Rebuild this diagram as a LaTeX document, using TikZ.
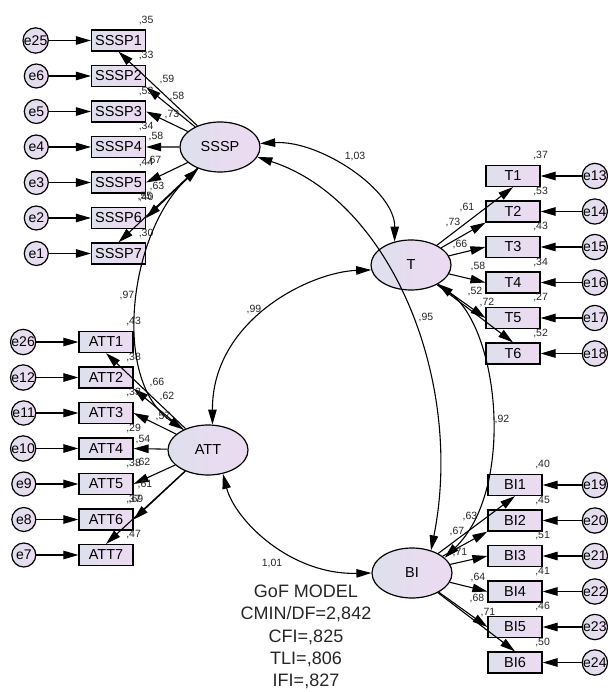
\documentclass[tikz,border=0pt]{standalone}
\usepackage{fontspec}
\setmainfont{Liberation Sans}
\usetikzlibrary{arrows.meta, positioning, shapes.geometric}

\definecolor{fillL}{RGB}{222,224,237}
\definecolor{fillR}{RGB}{237,218,242}

\begin{document}
\begin{tikzpicture}[
        x=1pt, y=-1pt,
        latent/.style={ellipse, draw, line width=1.2pt, minimum width=80pt, minimum height=50pt, inner sep=0pt, left color=fillL, right color=fillR, font=\fontsize{14.5}{16}\selectfont},
        indic/.style={rectangle, draw, line width=1.2pt, minimum width=54pt, minimum height=21pt, inner sep=0pt, left color=fillL, right color=fillR, font=\fontsize{14.5}{16}\selectfont},
        err/.style={circle, draw, line width=1.2pt, minimum size=24pt, inner sep=0pt, left color=fillL, right color=fillR, font=\fontsize{14}{16}\selectfont},
        val/.style={font=\fontsize{10.5}{12}\selectfont, inner sep=0.5pt, text=black!85},
        gof/.style={font=\fontsize{18}{22.2}\selectfont, align=center, text=black!85},
        arr/.style={-{Triangle[length=15pt, width=8.5pt]}, line width=1.1pt},
        cov/.style={{Triangle[length=15pt, width=8.5pt]}-{Triangle[length=15pt, width=8.5pt]}, line width=1.1pt},
        node distance=13.3pt
    ]
        \useasboundingbox (0,0) rectangle (607,692);

        \node[latent] (SSSP) at (220,147) {SSSP};
        \node[latent] (T) at (411,265) {T};
        \node[latent] (ATT) at (208,450) {ATT};
        \node[latent] (BI) at (412,573) {BI};

        % indicators
        \node[indic] (SSSP1) at (118.5,40.5) {SSSP1};
        \foreach \i [count=\j from 1] in {2,...,7}
            \node[indic, below=of SSSP\j] (SSSP\i) {SSSP\i};
        \node[indic] (ATT1) at (106,342) {ATT1};
        \foreach \i [count=\j from 1] in {2,...,7}
            \node[indic, below=of ATT\j] (ATT\i) {ATT\i};
        \node[indic] (T1) at (513,176) {T1};
        \foreach \i [count=\j from 1] in {2,...,6}
            \node[indic, below=of T\j] (T\i) {T\i};
        \node[indic] (BI1) at (515,485) {BI1};
        \foreach \i [count=\j from 1] in {2,...,6}
            \node[indic, below=of BI\j] (BI\i) {BI\i};

        % errors
        \foreach \i/\e in {1/25,2/6,3/5,4/4,5/3,6/2,7/1} {
            \node[err, left=42pt of SSSP\i] (e\e) {e\e};
            \draw[arr] (e\e) -- (SSSP\i);
        }
        \foreach \i/\e in {1/26,2/12,3/11,4/10,5/9,6/8,7/7} {
            \node[err, left=42pt of ATT\i] (e\e) {e\e};
            \draw[arr] (e\e) -- (ATT\i);
        }
        \foreach \i/\e in {1/13,2/14,3/15,4/16,5/17,6/18} {
            \node[err, right=41pt of T\i] (e\e) {e\e};
            \draw[arr] (e\e) -- (T\i);
        }
        \foreach \i/\e in {1/19,2/20,3/21,4/22,5/23,6/24} {
            \node[err, right=39pt of BI\i] (e\e) {e\e};
            \draw[arr] (e\e) -- (BI\i);
        }

        % loadings
        \foreach \i/\a in {1/south,2/south east,3/east,4/east,5/east,6/east,7/north}
            \draw[arr] (SSSP) -- (SSSP\i.\a);
        \foreach \i/\a in {1/south,2/south east,3/east,4/east,5/east,6/east,7/north}
            \draw[arr] (ATT) -- (ATT\i.\a);
        \foreach \i/\a in {1/south,2/south west,3/west,4/west,5/west,6/north}
            \draw[arr] (T) -- (T\i.\a);
        \foreach \i/\a in {1/south,2/south west,3/west,4/west,5/west,6/north}
            \draw[arr] (BI) -- (BI\i.\a);

        % squared multiple correlations
        \foreach \i/\v in {1/35,2/33,3/53,4/34,5/44,6/40,7/30}
            \node[val, above=4pt of SSSP\i.north east] (rSSSP\i) {,\v};
        \foreach \i/\v in {1/43,2/38,3/33,4/29,5/38,6/37,7/47}
            \node[val, above=4pt of ATT\i.north east] (rATT\i) {,\v};
        \foreach \i/\v in {1/37,2/53,3/43,4/34,5/27,6/52}
            \node[val, above=4pt of T\i.north east] (rT\i) {,\v};
        \foreach \i/\v in {1/40,2/45,3/51,4/41,5/46,6/50}
            \node[val, above=4pt of BI\i.north east] (rBI\i) {,\v};

        \foreach \n/\p/\v in {1/{167,80}/59, 2/{177,97}/58, 3/{172,115}/73, 4/{156,137}/58, 5/{154,161}/67, 6/{157,187}/63, 7/{145,197}/55}
            \node[val] (lSSSP\n) at (\p) {,\v};
        \foreach \n/\p/\v in {1/{157,383}/66, 2/{167,397}/62, 3/{163,417}/57, 4/{143,440}/54, 5/{143,463}/62, 6/{145,485}/61, 7/{136,500}/69}
            \node[val] (lATT\n) at (\p) {,\v};
        \foreach \n/\p/\v in {1/{467,208}/61, 2/{453,223}/73, 3/{460,245}/66, 4/{478,267}/58, 5/{475,292}/52, 6/{487,303}/72}
            \node[val] (lT\n) at (\p) {,\v};
        \foreach \n/\p/\v in {1/{470,517}/63, 2/{457,532}/67, 3/{460,553}/71, 4/{478,577}/64, 5/{477,598}/68, 6/{488,613}/71}
            \node[val] (lBI\n) at (\p) {,\v};

        % covariances
        \draw[cov] (SSSP.5) .. controls (320,140) and (395,190) .. (T.125);
        \draw[cov] (SSSP.-15) .. controls (390,200) and (465,380) .. (BI.50);
        \draw[cov] (SSSP.225) .. controls (130,230) and (110,380) .. (ATT.140);
        \draw[cov] (T.187) .. controls (310,272) and (212,320) .. (ATT.80);
        \draw[cov] (ATT.-58) .. controls (235,520) and (290,575) .. (BI.west);
        \draw[cov] (T.-35) .. controls (500,330) and (515,490) .. (BI.25);

        \node[val] (cSSSPT) at (355,157) {1,03};
        \node[val] (cSSSPBI) at (426,318) {,95};
        \node[val] (cSSSPATT) at (127,296) {,97};
        \node[val] (cTATT) at (254,310) {,99};
        \node[val] (cTBI) at (502,420) {,92};
        \node[val] (cATTBI) at (272,563) {1,01};

        \node[gof] (fit) at (306,637) {GoF MODEL\\CMIN/DF=2,842\\CFI=,825\\TLI=,806\\IFI=,827};
    \end{tikzpicture}
\end{document}
